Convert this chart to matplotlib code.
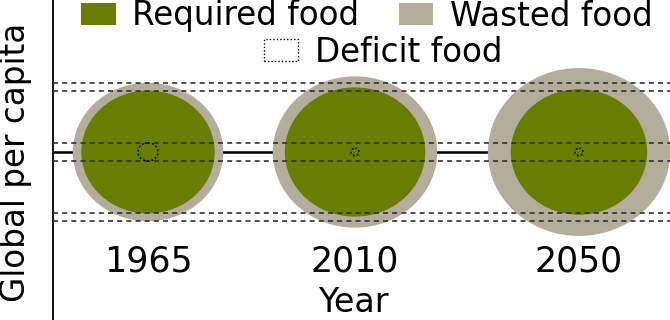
import matplotlib
matplotlib.use("Agg")
import matplotlib.pyplot as plt
from matplotlib.patches import Ellipse, Patch

# circle sizes (radius, relative units) for each period
years = ["1965", "2010", "2050"]
required_food = [66, 69.5, 67.5]
wasted_food = [74.5, 81.5, 90.5]   # outer ring = required + wasted
deficit_food = [10, 4, 4]

green = "#697d00"
grey = "#b3ad9c"

centers = [148, 355, 579]
y0 = 152
squash = 0.92   # circles in the source are a bit flattened

fig = plt.figure(figsize=(6.7, 3.2), dpi=100)
ax = fig.add_axes([53 / 670, 0, 1 - 53 / 670, 1])
ax.set_xlim(53, 670)
ax.set_ylim(320, 0)

ax.axhline(y0, color="black", lw=1.8, zorder=1)

for x, r_req, r_w, r_d in zip(centers, required_food, wasted_food, deficit_food):
    ax.add_patch(Ellipse((x, y0), 2 * r_w, 2 * r_w * squash, color=grey, zorder=2))
    ax.add_patch(Ellipse((x, y0), 2 * r_req, 2 * r_req * squash, color=green, zorder=3))
    ax.add_patch(Ellipse((x, y0), 2 * r_d, 2 * r_d * squash, facecolor="none",
                         edgecolor="black", ls=(0, (1, 1.5)), lw=1.2, zorder=5))

# reference lines at the 1965 edges
for r in [wasted_food[0], required_food[0], deficit_food[0]]:
    for s in (-1, 1):
        ax.axhline(y0 + s * r * squash, color="#303030", lw=1.2,
                   dashes=(3.0, 2.5), zorder=4)

for x, yr in zip(centers, years):
    ax.text(x, 272, yr, ha="center", va="baseline", fontsize=25)
ax.text(353, 312, "Year", ha="center", va="baseline", fontsize=24)
fig.text(16 / 670, 158 / 320, "Global per capita", rotation=90,
         ha="center", va="center", fontsize=23.5)

for s in ["top", "right", "bottom"]:
    ax.spines[s].set_visible(False)
ax.spines["left"].set_linewidth(1.3)
ax.set_xticks([])
ax.set_yticks([])

h1 = [Patch(facecolor=green, label="Required food"),
      Patch(facecolor=grey, label="Wasted food")]
leg1 = ax.legend(handles=h1, ncol=2, frameon=False, fontsize=23.5,
                 loc="center", bbox_to_anchor=(367 / 670, 1 - 16 / 320),
                 bbox_transform=fig.transFigure, borderpad=0,
                 handlelength=1.05, handleheight=0.68, handletextpad=0.52,
                 columnspacing=1.2)
ax.add_artist(leg1)
h2 = [Patch(facecolor="white", edgecolor="black", ls=(0, (1, 1.5)), lw=1.0,
            label="Deficit food")]
ax.legend(handles=h2, frameon=False, fontsize=23.5,
          loc="center", bbox_to_anchor=(383 / 670, 1 - 52 / 320),
          bbox_transform=fig.transFigure, borderpad=0,
          handlelength=1.05, handleheight=0.68, handletextpad=0.52)

fig.savefig("out.png", dpi=100)
